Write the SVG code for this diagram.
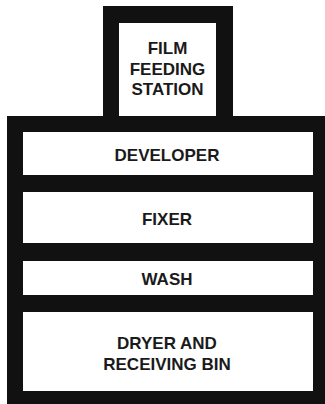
<svg xmlns="http://www.w3.org/2000/svg" width="325" height="404" viewBox="0 0 325 404">
<style>
.frame{fill:#111111}
.cell{fill:#ffffff}
.lbl{font-family:"Liberation Sans",Arial,sans-serif;font-weight:bold;font-size:17px;fill:#1a1a1a;text-anchor:middle}
</style>
<rect width="325" height="404" fill="#ffffff"/>
<g id="frame">
<rect class="frame" x="103" y="6" width="130" height="115"/>
<rect class="frame" x="7" y="116" width="330" height="300"/>
</g>
<g id="film-feeding-station">
<rect class="cell" x="119" y="23" width="97" height="93"/>
<text class="lbl" x="167.5" y="53.5">FILM</text>
<text class="lbl" x="167.5" y="74.5">FEEDING</text>
<text class="lbl" x="167.5" y="95">STATION</text>
</g>
<g id="developer">
<rect class="cell" x="23" y="132" width="290" height="43"/>
<text class="lbl" x="167" y="160.5">DEVELOPER</text>
</g>
<g id="fixer">
<rect class="cell" x="23" y="192" width="290" height="51"/>
<text class="lbl" x="167" y="225">FIXER</text>
</g>
<g id="wash">
<rect class="cell" x="23" y="261" width="290" height="34"/>
<text class="lbl" x="167" y="285">WASH</text>
</g>
<g id="dryer">
<rect class="cell" x="23" y="312" width="290" height="79"/>
<text class="lbl" x="167" y="348.5">DRYER AND</text>
<text class="lbl" x="167" y="370">RECEIVING BIN</text>
</g>
<g id="connectors"></g>
</svg>
